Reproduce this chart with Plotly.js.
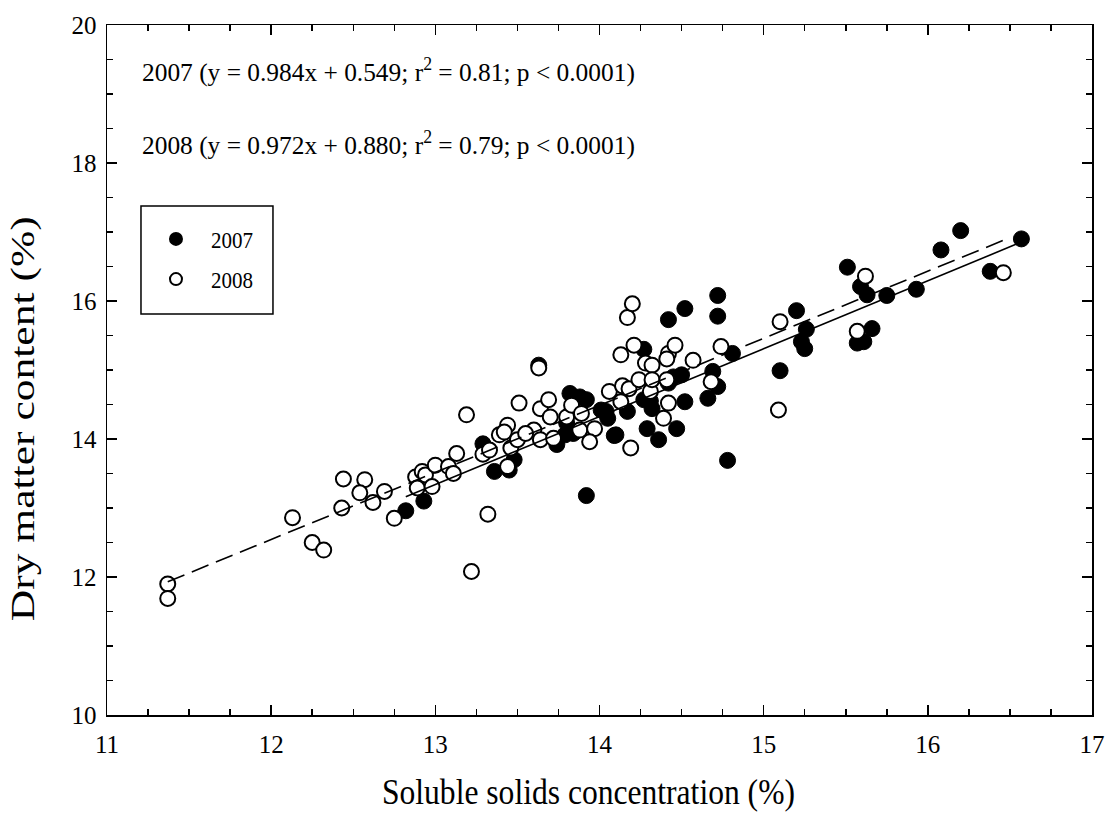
<!DOCTYPE html>
<html>
<head>
<meta charset="utf-8">
<script src="https://cdn.plot.ly/plotly-3.0.1.min.js"></script>
<style>html,body{margin:0;padding:0;background:#fff;}#chart{width:1108px;height:820px;}</style>
</head>
<body>
<div id="chart"></div>
<script>
// 2007 (filled circles)
const x2007 = [12.82,12.93,13.29,13.36,13.45,13.48,13.63,13.74,13.79,13.84,13.80,13.82,13.88,13.92,13.92,14.04,14.05,14.09,14.17,14.27,14.27,14.31,14.32,14.29,14.36,14.42,14.45,14.50,14.47,14.52,14.42,14.52,14.72,14.72,14.66,14.69,14.72,14.81,14.78,15.10,15.20,15.26,15.23,15.25,15.51,15.59,15.63,15.75,15.66,15.57,15.61,15.93,16.08,16.20,16.38,16.57,14.10,14.01];
const y2007 = [12.96,13.10,13.93,13.53,13.55,13.70,15.07,13.92,14.06,14.08,14.23,14.66,14.61,14.57,13.18,14.40,14.30,14.05,14.40,15.30,14.57,14.55,14.44,14.15,13.99,14.81,14.90,14.93,14.15,14.54,15.73,15.89,15.78,16.08,14.59,14.98,14.76,15.24,13.69,14.99,15.86,15.59,15.41,15.31,16.49,16.21,16.09,16.08,15.60,15.39,15.41,16.17,16.74,17.02,16.43,16.90,14.06,14.42];
// 2008 (open circles)
const x2008 = [11.37,11.37,12.13,12.25,12.32,12.44,12.43,12.57,12.54,12.62,12.69,12.75,12.88,12.92,12.89,12.94,13.00,12.98,13.08,13.11,13.13,13.19,13.22,13.32,13.29,13.33,13.39,13.44,13.46,13.44,13.50,13.51,13.60,13.64,13.63,13.64,13.69,13.70,13.72,13.80,13.83,13.89,13.88,13.97,13.94,14.06,14.13,14.14,14.18,14.19,14.17,14.20,14.13,14.21,14.24,14.28,14.32,14.31,14.32,14.41,14.42,14.39,14.42,14.41,14.46,14.57,14.68,14.74,15.10,15.09,15.57,15.62,16.46,13.55,13.42];
const y2008 = [11.90,11.69,12.86,12.50,12.39,13.42,13.00,13.41,13.22,13.08,13.24,12.85,13.45,13.53,13.29,13.48,13.62,13.31,13.60,13.50,13.79,14.35,12.08,12.91,13.78,13.84,14.06,14.20,13.87,13.60,13.99,14.52,14.13,13.99,15.03,14.44,14.57,14.32,14.01,14.32,14.49,14.37,14.13,14.15,13.96,14.69,14.54,14.77,14.73,13.87,15.76,15.96,15.22,15.36,14.86,15.10,15.07,14.69,14.86,14.86,14.52,14.30,15.24,15.16,15.36,15.14,14.83,15.34,15.70,14.42,15.56,16.36,16.41,14.08,14.10];
// regression fits: [slope, intercept], x range
const fit2007 = [0.984, 0.549];
const range2007 = [12.82, 16.57];
const fit2008 = [0.972, 0.880];
const range2008 = [11.37, 16.46];
const eqLabels = [
  "2007 (y = 0.984x + 0.549; r<sup>2</sup> = 0.81; p < 0.0001)",
  "2008 (y = 0.972x + 0.880; r<sup>2</sup> = 0.79; p < 0.0001)"
];
const seriesNames = ["2007", "2008"];
const xTitle = "Soluble solids concentration (%)";
const yTitle = "Dry matter content (%)";

const F = "Liberation Serif, Times New Roman, serif";
const lineY = (f, r) => r.map(v => f[0]*v + f[1]);

const traces = [
  {x: x2007, y: y2007, mode: 'markers', type: 'scatter', name: seriesNames[0], legendgroup: 'a',
   marker: {symbol: 'circle', size: 16, color: '#000', line: {color: '#000', width: 1}}},
  {x: x2008, y: y2008, mode: 'markers', type: 'scatter', name: seriesNames[1], legendgroup: 'b',
   marker: {symbol: 'circle', size: 15, color: '#fff', line: {color: '#000', width: 2}}},
  {x: range2007, y: lineY(fit2007, range2007), mode: 'lines', type: 'scatter', showlegend: false,
   line: {color: '#000', width: 1.6}},
  {x: range2008, y: lineY(fit2008, range2008), mode: 'lines', type: 'scatter', showlegend: false,
   line: {color: '#000', width: 1.6, dash: '18px,8px'}}
];

const axisCommon = {
  showgrid: false, zeroline: false, showline: true, linecolor: '#000', linewidth: 1.5,
  mirror: 'ticks', ticks: 'inside', ticklen: 10, tickwidth: 1.5, tickcolor: '#000',
  tickfont: {family: F, size: 25, color: '#000'}
};

const layout = {
  width: 1108, height: 820,
  margin: {l: 107, r: 16, t: 25, b: 105},
  paper_bgcolor: '#fff', plot_bgcolor: '#fff',
  font: {family: F, color: '#000'},
  xaxis: Object.assign({}, axisCommon, {
    range: [11, 17], dtick: 1, tick0: 11, ticklabelstandoff: 6,
    minor: {dtick: 0.25, ticks: 'inside', ticklen: 6, tickwidth: 1.5, tickcolor: '#000', showgrid: false}
  }),
  yaxis: Object.assign({}, axisCommon, {
    range: [10, 20], dtick: 2, tick0: 10, ticklabelstandoff: 4,
    minor: {dtick: 0.5, ticks: 'inside', ticklen: 6, tickwidth: 1.5, tickcolor: '#000', showgrid: false}
  }),
  showlegend: true,
  legend: {
    x: 0.0345, y: 0.722, xanchor: 'left', yanchor: 'top',
    bordercolor: '#000', borderwidth: 0, bgcolor: 'rgba(0,0,0,0)',
    font: {family: F, size: 24, color: '#000'},
    traceorder: 'grouped', tracegroupgap: 6, itemwidth: 60, itemsizing: 'constant'
  },
  shapes: [
    {type: 'rect', xref: 'paper', yref: 'paper', x0: 0.0345, x1: 0.1685, y0: 0.5812, y1: 0.7377,
     line: {color: '#000', width: 1.5}, fillcolor: 'rgba(0,0,0,0)', layer: 'below'}
  ],
  annotations: [
    {text: eqLabels[0], xref: 'paper', yref: 'paper', x: 0.0335, y: 0.934, xanchor: 'left', yanchor: 'middle',
     showarrow: false, font: {family: F, size: 25.4, color: '#000'}},
    {text: eqLabels[1], xref: 'paper', yref: 'paper', x: 0.0335, y: 0.828, xanchor: 'left', yanchor: 'middle',
     showarrow: false, font: {family: F, size: 25.4, color: '#000'}},
    {text: xTitle, xref: 'paper', yref: 'paper', x: 0.489, y: -0.1116, xanchor: 'center', yanchor: 'middle',
     showarrow: false, font: {family: F, size: 36, color: '#000'}},
    {text: yTitle, xref: 'paper', yref: 'paper', x: -0.0853, y: 0.43, xanchor: 'center', yanchor: 'middle',
     textangle: -90, showarrow: false, font: {family: F, size: 33, color: '#000'}}
  ]
};

// along-text lengths for the axis titles only
const textLengths = [0, 0, 413, 405];

Plotly.newPlot('chart', traces, layout, {displayModeBar: false, staticPlot: true}).then(function (gd) {
  const anns = gd.querySelectorAll('.annotation-text');
  anns.forEach(function (el, i) {
    if (textLengths[i]) {
      el.setAttribute('textLength', textLengths[i]);
      el.setAttribute('lengthAdjust', 'spacingAndGlyphs');
    }
  });
  gd.querySelectorAll('.legendtext').forEach(function (el) {
    el.setAttribute('textLength', 42);
    el.setAttribute('lengthAdjust', 'spacingAndGlyphs');
  });
});
</script>
</body>
</html>
